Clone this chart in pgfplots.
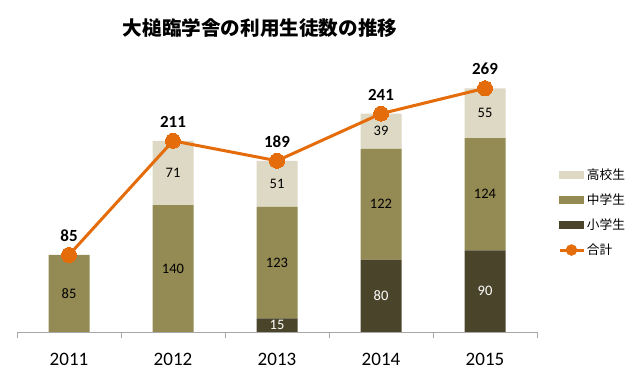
\documentclass[border=0pt]{standalone}
\usepackage{fontspec}
\setmainfont{Carlito}
\newfontfamily\jp{Noto Sans CJK JP}
\usepackage{pgfplots}
\usepackage{pgfplotstable}
\pgfplotsset{compat=1.18}
\definecolor{cH}{RGB}{221,217,196}
\definecolor{cM}{RGB}{148,138,84}
\definecolor{cS}{RGB}{74,69,42}
\definecolor{cT}{RGB}{228,108,10}
\definecolor{axgray}{RGB}{166,166,166}
\pgfplotstableread{
x s m h t
0 0 85 0 85
1 0 140 71 211
2 15 123 51 189
3 80 122 39 241
4 90 124 55 269
}\data
\begin{document}
\begin{tikzpicture}
\useasboundingbox (0,0) rectangle (640bp,378bp);
\pgfplotsset{base/.style={
  at={(17bp,46bp)}, anchor=south west,
  xmin=-0.5, xmax=4.5, ymin=0, ymax=300,
  scale only axis, width=520bp, height=271.8bp,
  /pgf/number format/assume math mode=true,
}}
\begin{axis}[base, ybar stacked, bar width=41bp,
  axis x line=bottom, axis y line=none,
  axis line style={-, draw=axgray, line width=0.8bp},
  xtick={0,...,4}, xticklabels={2011,2012,2013,2014,2015},
  major tick length=0pt,
  minor xtick={-0.5,0.5,...,4.5}, minor tick length=6bp,
  tick align=outside,
  minor tick style={draw=axgray, line width=0.8bp},
  xticklabel style={font=\fontsize{19bp}{22bp}\selectfont, yshift=-18bp},
  point meta=explicit,
  nodes near coords={\pgfmathfloattoint{\pgfplotspointmeta}\ifnum\pgfmathresult=0 \else\pgfmathresult\fi},
  every node near coord/.append style={anchor=center, font=\fontsize{14.5bp}{17bp}\selectfont},
]
\addplot[fill=cS, draw=none, every node near coord/.append style={text=white}] table[x=x, y=s, meta=s]{\data};
\addplot[fill=cM, draw=none, every node near coord/.append style={text=black}] table[x=x, y=m, meta=m]{\data};
\addplot[fill=cH, draw=none, every node near coord/.append style={text=black}] table[x=x, y=h, meta=h]{\data};
\end{axis}
\begin{axis}[base, axis lines=none,
  legend style={draw=none, fill=none, at={(axis description cs:1.04,0.61)}, anchor=north west,
    inner sep=0pt, row sep=9bp, font=\jp\fontsize{12.7bp}{15bp}\selectfont},
  legend cell align=left,
]
\addlegendimage{legend image code/.code={\fill[cH] (0bp,-3.5bp) rectangle (24bp,3.5bp);}}
\addlegendimage{legend image code/.code={\fill[cM] (0bp,-3.5bp) rectangle (24bp,3.5bp);}}
\addlegendimage{legend image code/.code={\fill[cS] (0bp,-3.5bp) rectangle (24bp,3.5bp);}}
\addlegendimage{legend image code/.code={\draw[cT, line width=3bp] (0bp,0bp) -- (24bp,0bp); \fill[cT] (12bp,0bp) circle (5.5bp);}}
\addplot[cT, line width=3bp, mark=*, mark size=7.5bp, mark options={fill=cT, draw=cT, line width=0pt},
  forget plot, point meta=explicit, nodes near coords,
  every node near coord/.append style={anchor=south, text=black, font=\bfseries\fontsize{17bp}{20bp}\selectfont, yshift=10bp}]
  table[x=x, y=t, meta=t]{\data};
\legend{高校生,中学生,小学生,合計}
\end{axis}
\node[font=\jp\bfseries\fontsize{19.6bp}{23bp}\selectfont] at (260bp,350bp) {大槌臨学舎の利用生徒数の推移};
\end{tikzpicture}
\end{document}
